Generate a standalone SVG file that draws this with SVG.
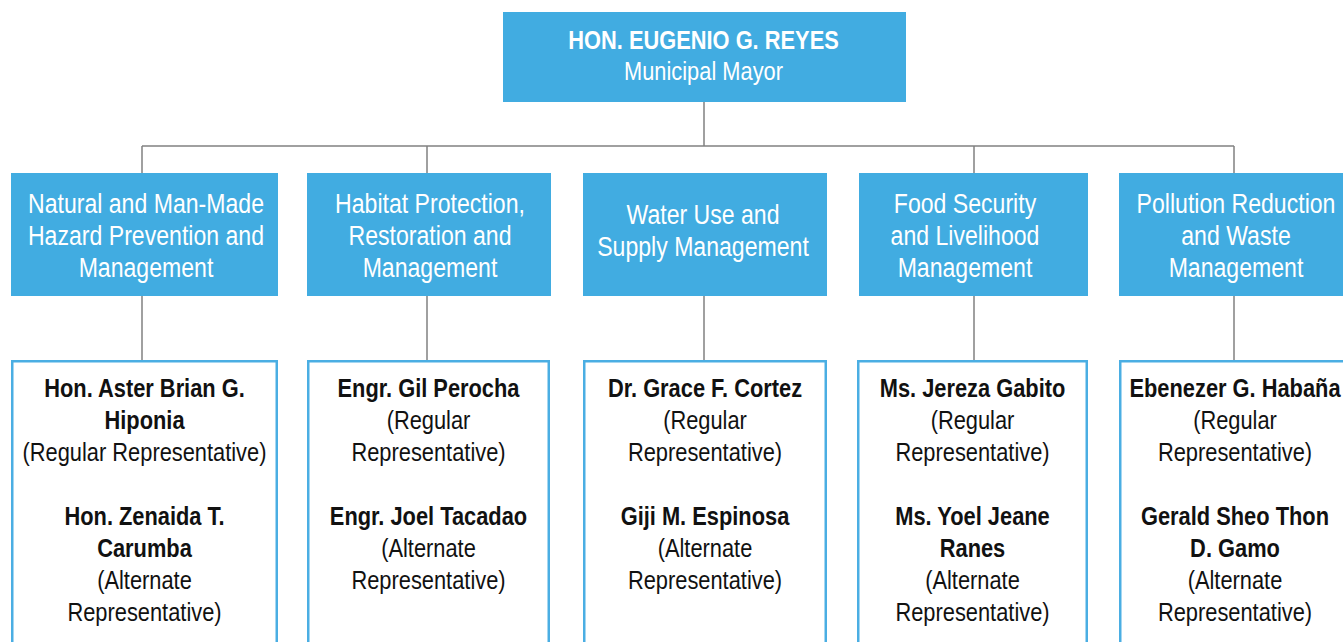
<svg xmlns="http://www.w3.org/2000/svg" width="1343" height="642" viewBox="0 0 1343 642">
<style>
.hdr{fill:#41ace1}
.card{fill:#ffffff;stroke:#4aaee3;stroke-width:2.5}
.conn line{stroke:#808080;stroke-width:1.5}
text{font-family:"Liberation Sans",Arial,sans-serif;text-anchor:middle}
.w{fill:#ffffff}
.top{font-size:26px}
.mid{font-size:27.5px}
.low{font-size:26px;fill:#111111}
.b{font-weight:bold}
</style>
<g id="connectors" class="conn">
<line x1="704" y1="102" x2="704" y2="146"/>
<line x1="142" y1="146" x2="1234" y2="146"/>
<line x1="142" y1="146" x2="142" y2="173"/>
<line x1="427" y1="146" x2="427" y2="173"/>
<line x1="974" y1="146" x2="974" y2="173"/>
<line x1="1234" y1="146" x2="1234" y2="173"/>
<line x1="142" y1="296" x2="142" y2="360"/>
<line x1="427" y1="296" x2="427" y2="360"/>
<line x1="704" y1="296" x2="704" y2="360"/>
<line x1="974" y1="296" x2="974" y2="360"/>
<line x1="1234" y1="296" x2="1234" y2="360"/>
</g>
<g id="mayor">
<rect class="hdr" x="503" y="12" width="403" height="90"/>
<g transform="translate(703.5,0) scale(0.84,1)">
<text class="w top" x="0" y="49" font-weight="bold">HON. EUGENIO G. REYES</text>
<text class="w top" x="0" y="80">Municipal Mayor</text>
</g>
</g>
<g id="c1">
<rect class="hdr" x="11" y="173" width="267" height="123"/>
<g transform="translate(146,0) scale(0.84,1)" class="w mid">
<text class="w mid" x="0" y="213">Natural and Man-Made</text>
<text class="w mid" x="0" y="245">Hazard Prevention and</text>
<text class="w mid" x="0" y="277">Management</text>
</g>
</g>
<g id="c2">
<rect class="hdr" x="307" y="173" width="244" height="123"/>
<g transform="translate(430,0) scale(0.84,1)">
<text class="w mid" x="0" y="213">Habitat Protection,</text>
<text class="w mid" x="0" y="245">Restoration and</text>
<text class="w mid" x="0" y="277">Management</text>
</g>
</g>
<g id="c3">
<rect class="hdr" x="583" y="173" width="244" height="123"/>
<g transform="translate(703,0) scale(0.84,1)">
<text class="w mid" x="0" y="224">Water Use and</text>
<text class="w mid" x="0" y="256">Supply Management</text>
</g>
</g>
<g id="c4">
<rect class="hdr" x="859" y="173" width="229" height="123"/>
<g transform="translate(965,0) scale(0.84,1)">
<text class="w mid" x="0" y="213">Food Security</text>
<text class="w mid" x="0" y="245">and Livelihood</text>
<text class="w mid" x="0" y="277">Management</text>
</g>
</g>
<g id="c5">
<rect class="hdr" x="1119" y="173" width="234" height="123"/>
<g transform="translate(1236,0) scale(0.84,1)">
<text class="w mid" x="0" y="213">Pollution Reduction</text>
<text class="w mid" x="0" y="245">and Waste</text>
<text class="w mid" x="0" y="277">Management</text>
</g>
</g>
<g id="r1">
<rect class="card" x="12.25" y="361.25" width="264.5" height="300"/>
<g transform="translate(144.5,0) scale(0.84,1)">
<text class="low b" x="0" y="397">Hon. Aster Brian G.</text>
<text class="low b" x="0" y="429">Hiponia</text>
<text class="low" x="0" y="461">(Regular Representative)</text>
<text class="low b" x="0" y="525">Hon. Zenaida T.</text>
<text class="low b" x="0" y="557">Carumba</text>
<text class="low" x="0" y="589">(Alternate</text>
<text class="low" x="0" y="621">Representative)</text>
</g>
</g>
<g id="r2">
<rect class="card" x="308.25" y="361.25" width="240.5" height="300"/>
<g transform="translate(428.5,0) scale(0.84,1)">
<text class="low b" x="0" y="397">Engr. Gil Perocha</text>
<text class="low" x="0" y="429">(Regular</text>
<text class="low" x="0" y="461">Representative)</text>
<text class="low b" x="0" y="525">Engr. Joel Tacadao</text>
<text class="low" x="0" y="557">(Alternate</text>
<text class="low" x="0" y="589">Representative)</text>
</g>
</g>
<g id="r3">
<rect class="card" x="584.25" y="361.25" width="241.5" height="300"/>
<g transform="translate(705,0) scale(0.84,1)">
<text class="low b" x="0" y="397">Dr. Grace F. Cortez</text>
<text class="low" x="0" y="429">(Regular</text>
<text class="low" x="0" y="461">Representative)</text>
<text class="low b" x="0" y="525">Giji M. Espinosa</text>
<text class="low" x="0" y="557">(Alternate</text>
<text class="low" x="0" y="589">Representative)</text>
</g>
</g>
<g id="r4">
<rect class="card" x="858.25" y="361.25" width="228.5" height="300"/>
<g transform="translate(972.5,0) scale(0.84,1)">
<text class="low b" x="0" y="397">Ms. Jereza Gabito</text>
<text class="low" x="0" y="429">(Regular</text>
<text class="low" x="0" y="461">Representative)</text>
<text class="low b" x="0" y="525">Ms. Yoel Jeane</text>
<text class="low b" x="0" y="557">Ranes</text>
<text class="low" x="0" y="589">(Alternate</text>
<text class="low" x="0" y="621">Representative)</text>
</g>
</g>
<g id="r5">
<rect class="card" x="1120.25" y="361.25" width="232" height="300"/>
<g transform="translate(1235,0) scale(0.84,1)">
<text class="low b" x="0" y="397">Ebenezer G. Habaña</text>
<text class="low" x="0" y="429">(Regular</text>
<text class="low" x="0" y="461">Representative)</text>
<text class="low b" x="0" y="525">Gerald Sheo Thon</text>
<text class="low b" x="0" y="557">D. Gamo</text>
<text class="low" x="0" y="589">(Alternate</text>
<text class="low" x="0" y="621">Representative)</text>
</g>
</g>
</svg>
